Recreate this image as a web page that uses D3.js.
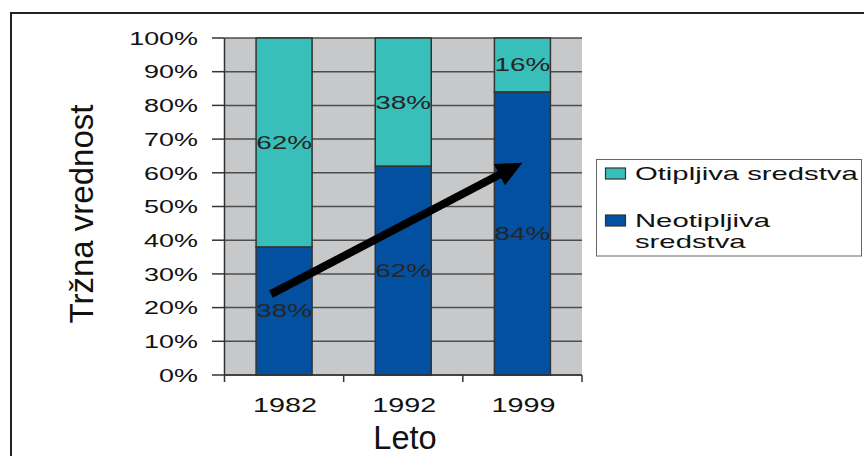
<!DOCTYPE html>
<html><head><meta charset="utf-8">
<script src="https://cdn.jsdelivr.net/npm/d3@7"></script>
<style>html,body{margin:0;padding:0;background:#fff;}svg{display:block;font-family:Arial,"Liberation Sans",Helvetica,sans-serif;}</style>
</head><body>
<svg id="c" width="864" height="456"></svg>
<script>
const categories = ["1982", "1992", "1999"];
const seriesNames = ["Neotipljiva sredstva", "Otipljiva sredstva"];
const neotipljiva = [38, 62, 84];
const otipljiva = [62, 38, 16];
const yTicks = [0, 10, 20, 30, 40, 50, 60, 70, 80, 90, 100];
const arrowFrom = {cat: "1982", off: -0.11, v: 24};
const arrowTo = {cat: "1999", off: 0, v: 63};

const colors = {"Neotipljiva sredstva": "#0350a0", "Otipljiva sredstva": "#39bfb9"};
const svg = d3.select("#c");
const L = 224.5, R = 582, T = 38, B = 375;

const x = d3.scaleBand().domain(categories).range([L, R]).paddingInner(0.53).paddingOuter(0.265);
const xb = d3.scaleBand().domain(categories).range([L, R]);
const y = d3.scaleLinear().domain([0, 100]).range([B, T]);

// outer frame
svg.append("line").attr("x1", 11).attr("x2", 864).attr("y1", 13).attr("y2", 13).attr("stroke", "#222").attr("stroke-width", 2);
svg.append("line").attr("x1", 11).attr("x2", 11).attr("y1", 12).attr("y2", 456).attr("stroke", "#222").attr("stroke-width", 2);

// plot bg
svg.append("rect").attr("x", L).attr("y", T).attr("width", R - L).attr("height", B - T).attr("fill", "#c7c8ca");

// gridlines
svg.append("g").selectAll("line").data(yTicks).join("line")
  .attr("x1", L).attr("x2", R).attr("y1", d => y(d)).attr("y2", d => y(d))
  .attr("stroke", "#4d4d4d").attr("stroke-width", 1.5);

// stacked bars
const rows = categories.map((c, i) => ({cat: c, "Neotipljiva sredstva": neotipljiva[i], "Otipljiva sredstva": otipljiva[i]}));
const stack = d3.stack().keys(seriesNames)(rows);
const g = svg.append("g");
stack.forEach(layer => {
  g.selectAll(null).data(layer).join("rect")
    .attr("x", d => x(d.data.cat)).attr("width", x.bandwidth())
    .attr("y", d => y(d[1])).attr("height", d => y(d[0]) - y(d[1]))
    .attr("fill", colors[layer.key]).attr("stroke", "#333").attr("stroke-width", 1.5);
});

// data labels
function stretched(sel, sx) {
  return sel.attr("transform", function() {
    return `translate(${this.__px},${this.__py}) scale(${sx},1)`;
  });
}
stack.forEach(layer => {
  layer.forEach(d => {
    const t = svg.append("text").text(d.data[layer.key] + "%")
      .attr("text-anchor", "middle").attr("dy", "0.35em")
      .attr("font-size", 18.6).attr("fill", "#262626");
    const px = x(d.data.cat) + x.bandwidth() / 2, py = y((d[0] + d[1]) / 2);
    t.attr("transform", `translate(${px},${py}) scale(1.5,1)`);
  });
});

// arrow
const ax1 = xb(arrowFrom.cat) + xb.bandwidth() / 2 + arrowFrom.off * xb.bandwidth();
const ay1 = y(arrowFrom.v);
const ax2 = xb(arrowTo.cat) + xb.bandwidth() / 2 + arrowTo.off * xb.bandwidth();
const ay2 = y(arrowTo.v);
const ang = Math.atan2(ay2 - ay1, ax2 - ax1);
const headLen = 26, headW = 12;
const bx = ax2 - headLen * Math.cos(ang), by = ay2 - headLen * Math.sin(ang);
svg.append("line").attr("x1", ax1).attr("y1", ay1).attr("x2", bx + 2 * Math.cos(ang)).attr("y2", by + 2 * Math.sin(ang))
  .attr("stroke", "#000").attr("stroke-width", 8);
svg.append("path").attr("d", d3.line()([
  [ax2, ay2],
  [bx + headW * Math.sin(ang), by - headW * Math.cos(ang)],
  [bx - headW * Math.sin(ang), by + headW * Math.cos(ang)]
])).attr("fill", "#000");

// axes lines
svg.append("line").attr("x1", L).attr("x2", L).attr("y1", T).attr("y2", B).attr("stroke", "#333").attr("stroke-width", 1.5);
svg.append("line").attr("x1", L).attr("x2", R).attr("y1", B).attr("y2", B).attr("stroke", "#333").attr("stroke-width", 1.5);
// y ticks
svg.append("g").selectAll("line").data(yTicks).join("line")
  .attr("x1", 212).attr("x2", L).attr("y1", d => y(d)).attr("y2", d => y(d))
  .attr("stroke", "#333").attr("stroke-width", 1.5);
yTicks.forEach(v => {
  svg.append("text").text(v + "%").attr("text-anchor", "end").attr("dy", "0.36em")
    .attr("font-size", 18.7).attr("fill", "#111")
    .attr("transform", `translate(198,${y(v)}) scale(1.44,1)`);
});
// x ticks
const xTickPos = categories.map(c => xb(c)).concat([R]);
svg.append("g").selectAll("line").data(xTickPos).join("line")
  .attr("x1", d => d).attr("x2", d => d).attr("y1", B).attr("y2", 382)
  .attr("stroke", "#333").attr("stroke-width", 1.5);
categories.forEach(c => {
  svg.append("text").text(c).attr("text-anchor", "middle")
    .attr("font-size", 20).attr("fill", "#111")
    .attr("transform", `translate(${xb(c) + xb.bandwidth() / 2 + 1},411.5) scale(1.44,1)`);
});

// axis titles
svg.append("text").text("Leto").attr("x", 405).attr("y", 448.5).attr("text-anchor", "middle")
  .attr("font-size", 32.6).attr("fill", "#111");
svg.append("text").text("Tržna vrednost").attr("text-anchor", "middle")
  .attr("font-size", 33).attr("fill", "#111")
  .attr("transform", "translate(92.5,214) rotate(-90)");

// legend
svg.append("rect").attr("x", 596.5).attr("y", 159.5).attr("width", 265).attr("height", 96.5)
  .attr("fill", "#fff").attr("stroke", "#666").attr("stroke-width", 1);
const legendItems = [
  {name: "Otipljiva sredstva", lines: ["Otipljiva sredstva"], sy: 168, ty: 180},
  {name: "Neotipljiva sredstva", lines: ["Neotipljiva", "sredstva"], sy: 215, ty: 227}
];
legendItems.forEach(it => {
  svg.append("rect").attr("x", 605.5).attr("y", it.sy).attr("width", 20).attr("height", 11)
    .attr("fill", colors[it.name]).attr("stroke", "#333").attr("stroke-width", 1.2);
  it.lines.forEach((ln, k) => {
    svg.append("text").text(ln).attr("font-size", 19).attr("fill", "#111")
      .attr("transform", `translate(635,${it.ty + k * 21}) scale(1.54,1)`);
  });
});
</script>
</body></html>
